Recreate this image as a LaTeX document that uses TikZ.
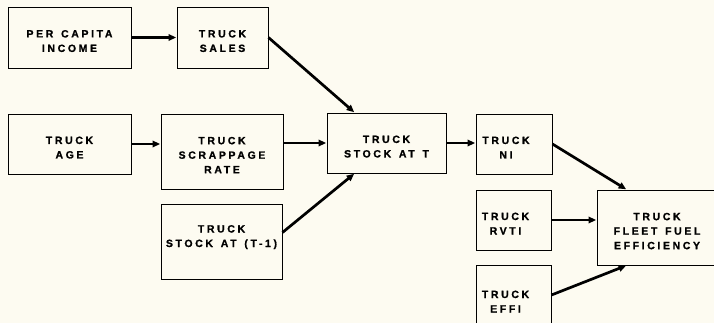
\documentclass[tikz,border=0pt]{standalone}
\usepackage{fontspec}
\newfontfamily\boxlabelfont{Liberation Sans}[UprightFont=* Bold,LetterSpace=25,WordSpace=1.4,FakeBold=1]
\usetikzlibrary{arrows.meta,calc}
\definecolor{paper}{RGB}{253,251,241}
\newcommand{\topgap}{\rule{0pt}{14.5pt}}
\begin{document}
\begin{tikzpicture}[x=1pt,y=-1pt,
  blk/.style={draw=black,line width=0.9pt,fill=none,inner sep=0pt,align=center,
    font=\boxlabelfont\fontsize{10.5}{14.5}\selectfont},
  flow/.style={line width=2.7pt,-{Triangle[length=7.5pt,width=6.5pt]},shorten >=0.5pt}]
\useasboundingbox (0,0) rectangle (714,323);
\clip (0,0) rectangle (714,323);
\fill[paper] (0,0) rectangle (714,323);
\node[blk,minimum width=123pt,minimum height=61pt] (inc) at (69.5,37.5) {\topgap PER CAPITA\\INCOME};
\node[blk,minimum width=91pt,minimum height=61pt] (sales) at (222.5,37.5) {\topgap TRUCK\\SALES};
\node[blk,minimum width=123pt,minimum height=60pt] (age) at (69.5,144) {\topgap TRUCK\\AGE};
\node[blk,minimum width=122pt,minimum height=75pt] (scrap) at (222,151.5) {\topgap TRUCK\\SCRAPPAGE\\RATE};
\node[blk,minimum width=121pt,minimum height=75pt] (prev) at (221.5,241.5) {\topgap TRUCK\\STOCK AT (T-1)\\[3.5pt]};
\node[blk,minimum width=119pt,minimum height=60pt] (stock) at (386.5,143) {\topgap TRUCK\\STOCK AT T};
\node[blk,minimum width=76pt,minimum height=60pt] (ni) at (514,144) {\topgap TRUCK\hspace*{16pt}\\NI\hspace*{16pt}};
\node[blk,minimum width=75pt,minimum height=60pt] (rvti) at (513.5,220) {\topgap TRUCK\hspace*{16pt}\\RVTI\hspace*{16pt}};
\node[blk,minimum width=75pt,minimum height=66pt] (effi) at (513.5,298) {\topgap TRUCK\hspace*{16pt}\\EFFI\hspace*{16pt}};
\node[blk,minimum width=120pt,minimum height=75pt] (ffe) at (657,227.5) {\topgap TRUCK\\FLEET FUEL\\EFFICIENCY};
\draw[flow] (inc.east) -- (sales.west);
\draw[flow] (age.east) -- (age.east -| scrap.west);
\draw[flow] (stock.west -| scrap.east) -- (stock.west);
\draw[flow] (sales.east) -- ($(stock.north west)+(28,0)$);
\draw[flow] ($(prev.east)+(0,-9)$) -- ($(stock.south west)+(28,0)$);
\draw[flow] (stock.east) -- (stock.east -| ni.west);
\draw[flow] (ni.east) -- ($(ffe.north west)+(30,0)$);
\draw[flow] (rvti.east) -- (rvti.east -| ffe.west);
\draw[flow] ($(effi.east)+(0,-3)$) -- ($(ffe.south west)+(30,0)$);
\end{tikzpicture}
\end{document}
